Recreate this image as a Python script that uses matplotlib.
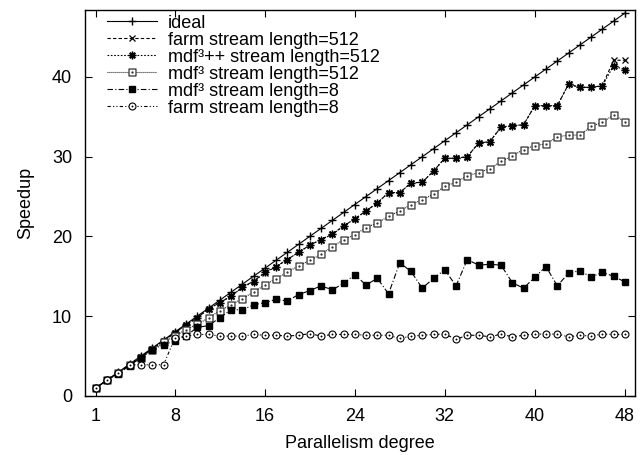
import matplotlib
matplotlib.use("Agg")
import matplotlib.pyplot as plt
from matplotlib.path import Path

plt.rcParams['font.family'] = ['Liberation Sans', 'DejaVu Sans']

# Степень параллелизма
x = list(range(1, 49))

ideal = list(range(1, 49))

farm_512 = [1, 2, 2.9, 3.9, 4.9, 5.9, 6.9, 7.9, 8.9, 9.8,
            10.9, 11.7, 12.5, 13.6, 14.4, 15.4, 16.2, 17.1, 18.0, 18.9,
            19.6, 20.3, 21.3, 22.2, 23.2, 24.2, 25.5, 25.5, 26.7, 26.8,
            28.2, 29.8, 29.8, 30.0, 31.7, 31.9, 33.7, 33.9, 34.0, 36.4,
            36.4, 36.4, 39.1, 38.7, 38.7, 38.9, 42.1, 42.1]

mdfpp_512 = [1, 2, 2.9, 3.9, 4.9, 5.9, 6.9, 7.9, 8.9, 9.8,
             10.9, 11.7, 12.5, 13.6, 14.3, 15.5, 16.2, 17.1, 18.0, 18.9,
             19.6, 20.25, 21.3, 22.2, 23.2, 24.2, 25.5, 25.5, 26.7, 26.8,
             28.2, 29.8, 29.8, 30.0, 31.7, 31.9, 33.7, 33.9, 34.0, 36.4,
             36.4, 36.4, 39.1, 38.7, 38.7, 38.9, 41.4, 40.9]

mdf_512 = [1, 2, 2.9, 3.9, 4.8, 5.8, 6.7, 7.5, 8.3, 9.0,
           9.75, 10.7, 11.4, 12.2, 13.0, 13.9, 14.7, 15.5, 16.3, 17.0,
           17.75, 18.7, 19.6, 20.2, 21.1, 21.7, 22.5, 23.2, 24.0, 24.6,
           25.3, 26.3, 26.8, 27.6, 28.0, 28.5, 29.4, 30.1, 30.9, 31.4,
           31.6, 32.5, 32.7, 32.7, 33.8, 34.3, 35.25, 34.4]

mdf_8 = [1, 1.95, 2.8, 3.8, 4.8, 5.8, 6.4, 6.9, 7.5, 8.6,
         8.8, 9.8, 10.8, 10.8, 11.4, 11.7, 12.1, 11.9, 12.7, 13.2,
         13.8, 13.3, 14.1, 15.2, 13.9, 14.75, 12.8, 16.7, 15.6, 13.5,
         14.75, 15.8, 13.8, 17.1, 16.4, 16.5, 16.4, 14.2, 13.5, 14.9,
         16.2, 13.8, 15.4, 15.7, 14.9, 15.5, 15.0, 14.3]

farm_8 = [1, 2, 2.9, 3.9, 3.9, 3.9, 3.9, 7.2, 7.5, 7.7,
          7.7, 7.5, 7.5, 7.5, 7.7, 7.6, 7.6, 7.5, 7.6, 7.8,
          7.5, 7.7, 7.7, 7.7, 7.6, 7.6, 7.6, 7.2, 7.5, 7.6,
          7.7, 7.75, 7.1, 7.6, 7.6, 7.4, 7.75, 7.4, 7.6, 7.75,
          7.75, 7.75, 7.4, 7.6, 7.5, 7.75, 7.7, 7.7]

labels = ['ideal', 'farm stream length=512', 'mdf³++ stream length=512',
          'mdf³ stream length=512', 'mdf³ stream length=8',
          'farm stream length=8']

# маркеры как в gnuplot: с точкой в центре
circ_dot = Path.make_compound_path(Path.unit_circle(), Path.circle((0, 0), 0.12))
sq = Path([(-1, -1), (1, -1), (1, 1), (-1, 1), (-1, -1)],
          [Path.MOVETO, Path.LINETO, Path.LINETO, Path.LINETO, Path.CLOSEPOLY])
sq_dot = Path.make_compound_path(sq, Path.circle((0, 0), 0.15))

fig, ax = plt.subplots(figsize=(6.42, 4.55), dpi=100)
fig.subplots_adjust(left=0.132, right=0.989, bottom=0.13, top=0.978)

lw = 0.8
fs = 13
ax.plot(x, ideal, color='black', lw=lw, ls='-', marker='+', ms=6,
        label=labels[0])
ax.plot(x, farm_512, color='black', lw=lw, ls=(0, (3, 2)), marker='x', ms=5,
        mew=0.9, label=labels[1])
ax.plot(x, mdfpp_512, color='black', lw=lw, ls=(0, (1.5, 1.5)), marker=(8, 2, 0),
        ms=5.5, mew=1.0, label=labels[2])
ax.plot(x, mdf_512, color='black', lw=lw, ls=(0, (0.8, 1)), marker=sq_dot,
        ms=5, mfc='white', mec='#333333', mew=0.9, label=labels[3])
ax.plot(x, mdf_8, color='black', lw=lw, ls=(0, (5, 2, 1, 2)), marker='s',
        ms=4.5, mfc='black', label=labels[4])
ax.plot(x, farm_8, color='black', lw=lw, ls=(0, (3, 2, 1, 2, 1, 2)),
        marker=circ_dot, ms=5, mfc='white', mew=0.8, label=labels[5])

ax.set_xlim(0, 48.9)
ax.set_ylim(0, 48.4)
ax.set_xticks([1, 8, 16, 24, 32, 40, 48])
ax.set_yticks([0, 10, 20, 30, 40])
ax.tick_params(direction='in', top=True, right=True, labelsize=fs, length=5,
               pad=9)
for s in ax.spines.values():
    s.set_linewidth(1.0)

ax.set_xlabel('Parallelism degree', fontsize=fs, labelpad=7)
ax.set_ylabel('Speedup', fontsize=fs, labelpad=13)

ax.legend(loc='upper left', frameon=False, fontsize=fs, handlelength=2.8,
          handletextpad=0.6, labelspacing=0.0, borderpad=0,
          borderaxespad=0, bbox_to_anchor=(0.04, 0.988))

fig.savefig('out.png', dpi=100)
